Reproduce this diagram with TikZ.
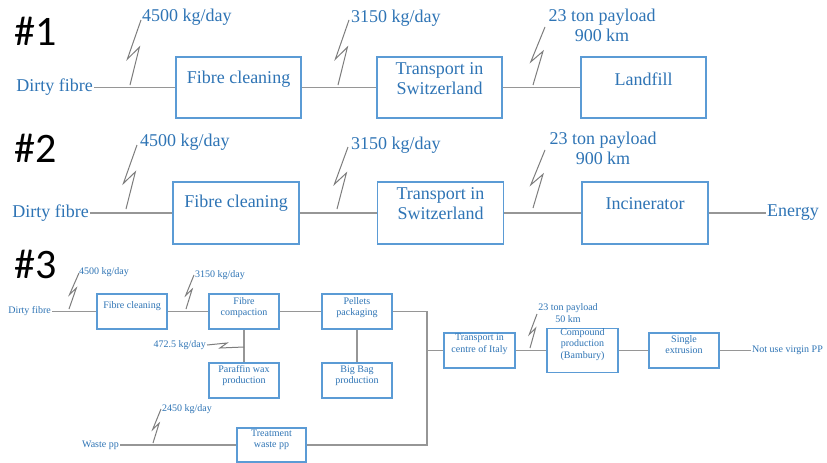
\documentclass[tikz,border=0pt]{standalone}
\usepackage{fontspec}
\setmainfont{Liberation Serif}
\newfontfamily\hashfont{Carlito}
\usetikzlibrary{calc}
\pgfdeclarelayer{bg}
\pgfsetlayers{bg,main}
\definecolor{txtblue}{RGB}{46,116,181}
\definecolor{boxblue}{RGB}{91,155,213}
\definecolor{linegray}{RGB}{150,150,150}
\definecolor{boltgray}{RGB}{125,125,125}
\newcommand\mybolt[4]{\draw[bolt] (#1) -- ($(#1)!0.58!(#2)+(#3,0)$) -- ($(#1)!0.40!(#2)+(#4,0)$) -- (#2);}
\begin{document}
\begin{tikzpicture}[x=1pt,y=-1pt,
 bigbox/.style={draw=boxblue, fill=white, line width=1.4pt, minimum width=125pt, minimum height=61pt, inner sep=0pt},
 smallbox/.style={draw=boxblue, fill=white, line width=1.2pt, minimum width=70pt, minimum height=35pt, inner sep=0pt},
 bigtxt/.style={text=txtblue, font=\fontsize{18}{20}\selectfont, align=center, inner sep=1pt},
 smalltxt/.style={text=txtblue, font=\fontsize{10}{11.5}\selectfont, align=center, inner sep=1pt},
 flow/.style={draw=linegray, line width=1.4pt},
 bolt/.style={draw=boltgray, line width=1pt, line join=miter},
 hash/.style={font=\hashfont\fontsize{42}{42}\selectfont, anchor=base west, inner sep=0pt}]
\useasboundingbox (0,0) rectangle (827,463);

% ---------------- #1 ----------------
\node[hash] (h1) at (14,45) {\#1};
\node[bigtxt, anchor=east] (d1) at (94,87.5) {Dirty fibre};
\node[bigbox] (a1) at (238.5,87.5) {};
\node[bigtxt] (a1t) at ([yshift=8.5pt]a1.center) {Fibre cleaning};
\node[bigbox] (b1) at (439.5,87.5) {};
\node[bigtxt] (b1t) at ([yshift=8.5pt]b1.center) {Transport in\\Switzerland};
\node[bigbox] (c1) at (643.5,87.5) {};
\node[bigtxt] (c1t) at ([yshift=8.5pt]c1.center) {Landfill};
\node[bigtxt, anchor=west] (l11) at (141,17) {4500 kg/day};
\node[bigtxt, anchor=west] (l12) at (350,18) {3150 kg/day};
\node[bigtxt] (l13) at (602,25.5) {23 ton payload\\900 km};
\coordinate (p11) at (130,85); \coordinate (q11) at (141,20);
\coordinate (p12) at (338,85); \coordinate (q12) at (349,20);
\coordinate (p13) at (533,85); \coordinate (q13) at (545,27);
\mybolt{p11}{q11}{3}{-7}
\mybolt{p12}{q12}{3}{-7}
\mybolt{p13}{q13}{3}{-7}

% ---------------- #2 ----------------
\node[hash] (h2) at (14,162) {\#2};
\node[bigtxt, anchor=east] (d2) at (90,213) {Dirty fibre};
\node[bigbox, minimum width=126pt, minimum height=62pt] (a2) at (236,213) {};
\node[bigtxt] (a2t) at ([yshift=9.5pt]a2.center) {Fibre cleaning};
\node[bigbox, minimum width=126pt, minimum height=62pt] (b2) at (440.5,213) {};
\node[bigtxt] (b2t) at ([yshift=9pt]b2.center) {Transport in\\Switzerland};
\node[bigbox, minimum width=126pt, minimum height=62pt] (c2) at (645,213) {};
\node[bigtxt] (c2t) at ([yshift=9.5pt]c2.center) {Incinerator};
\node[bigtxt, anchor=west] (e2) at (766,213) {Energy};
\node[bigtxt, anchor=west] (l21) at (139,142) {4500 kg/day};
\node[bigtxt, anchor=west] (l22) at (350,145) {3150 kg/day};
\node[bigtxt] (l23) at (603,148) {23 ton payload\\900 km};
\coordinate (p21) at (126,209); \coordinate (q21) at (137,145);
\coordinate (p22) at (337,209); \coordinate (q22) at (348,147);
\coordinate (p23) at (533,208); \coordinate (q23) at (545,150);
\mybolt{p21}{q21}{3}{-7}
\mybolt{p22}{q22}{3}{-7}
\mybolt{p23}{q23}{3}{-7}

% ---------------- #3 ----------------
\node[hash] (h3) at (14,278) {\#3};
\node[smalltxt, anchor=east] (d3) at (52,311.5) {Dirty fibre};
\node[smallbox] (fc) at (132,311.5) {};
\node[smalltxt] (fct) at ([yshift=5pt]fc.center) {Fibre cleaning};
\node[smallbox] (cm) at (244,311.5) {};
\node[smalltxt] (cmt) at ([yshift=4pt]cm.center) {Fibre\\compaction};
\node[smallbox] (pl) at (357,311.5) {};
\node[smalltxt] (plt) at ([yshift=4pt]pl.center) {Pellets\\packaging};
\node[smallbox] (pw) at (244,380.5) {};
\node[smalltxt] (pwt) at ([yshift=5pt]pw.center) {Paraffin wax\\production};
\node[smallbox] (bb) at (357,380.5) {};
\node[smalltxt] (bbt) at ([yshift=5pt]bb.center) {Big Bag\\production};
\node[smallbox, minimum width=69pt, minimum height=34pt] (tw) at (271.5,445) {};
\node[smalltxt] (twt) at ([yshift=5pt]tw.center) {Treatment\\waste pp};
\node[smallbox, minimum width=71pt] (ti) at (479.5,350.5) {};
\node[smalltxt] (tit) at ([yshift=6pt]ti.center) {Transport in\\centre of Italy};
\node[smallbox, minimum width=71pt, minimum height=44pt] (cp) at (582.5,350.5) {};
\node[smalltxt] (cpt) at ([yshift=6pt]cp.center) {Compound\\production\\(Bambury)};
\node[smallbox] (se) at (684,350.5) {};
\node[smalltxt] (set) at ([yshift=6pt]se.center) {Single\\extrusion};
\node[smalltxt, anchor=west] (nv) at (751,350.5) {Not use virgin PP};
\node[smalltxt, anchor=east] (wp) at (120,445) {Waste pp};
\coordinate (jn) at (427,350.5);
\node[smalltxt, anchor=west] (l31) at (78,272) {4500 kg/day};
\node[smalltxt, anchor=west] (l32) at (194,275) {3150 kg/day};
\node[smalltxt, anchor=west] (l33) at (161,409) {2450 kg/day};
\node[smalltxt, anchor=east] (l34) at (207,345) {472.5 kg/day};
\node[smalltxt] (l35) at (568,313) {23 ton payload\\50 km};
\coordinate (p31) at (69,309); \coordinate (q31) at (79,273);
\coordinate (p32) at (186,309); \coordinate (q32) at (194,275);
\coordinate (p33) at (153,443); \coordinate (q33) at (161,409);
\coordinate (p35) at (530,348); \coordinate (q35) at (537,314);
\mybolt{p31}{q31}{1.5}{-3.5}
\mybolt{p32}{q32}{1.5}{-3.5}
\mybolt{p33}{q33}{1.5}{-3.5}
\mybolt{p35}{q35}{1.5}{-3.5}
\coordinate (r34) at (244,347);
\draw[bolt] (l34.east) -- (227,343) -- (220,348) -- (r34);

% ---------------- connectors (behind boxes) ----------------
\begin{pgfonlayer}{bg}
\fill[white] (0,0) rectangle (827,463);
\draw[flow] (d1.east) -- (a1.west);
\draw[flow] (a1.east) -- (b1.west);
\draw[flow] (b1.east) -- (c1.west);
\draw[flow] (d2.east) -- (a2.west);
\draw[flow] (a2.east) -- (b2.west);
\draw[flow] (b2.east) -- (c2.west);
\draw[flow] (c2.east) -- (e2.west);
\draw[flow] (d3.east) -- (fc.west);
\draw[flow] (fc.east) -- (cm.west);
\draw[flow] (cm.east) -- (pl.west);
\draw[flow] (pl.east) -| (jn) -- (ti.west);
\draw[flow] (tw.east) -| (jn);
\draw[flow] (wp.east) -- (tw.west);
\draw[flow] (cm.south) -- (pw.north);
\draw[flow] (pl.south) -- (bb.north);
\draw[flow] (ti.east) -- (cp.west);
\draw[flow] (cp.east) -- (se.west);
\draw[flow] (se.east) -- (nv.west);
\end{pgfonlayer}
\end{tikzpicture}
\end{document}
